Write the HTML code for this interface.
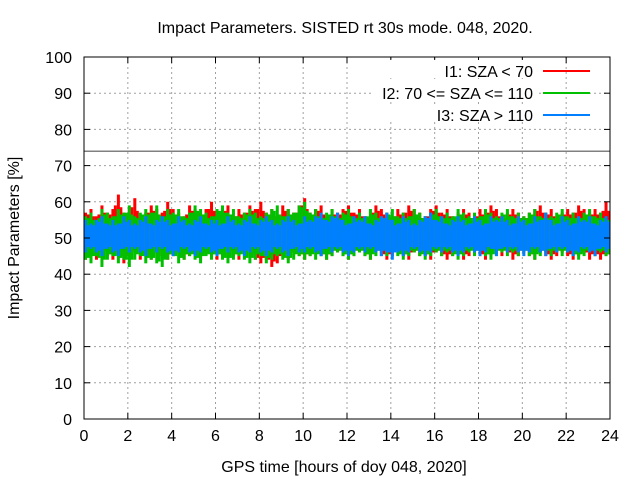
<!DOCTYPE html>
<html><head><meta charset="utf-8"><style>
body{margin:0;background:#fff;font-family:"Liberation Sans",sans-serif;}
svg text{font-family:"Liberation Sans",sans-serif;font-size:16px;fill:#000;}
</style></head><body>
<svg id="chart" width="640" height="480">
<g id="grid"></g><g id="series"></g><g id="axes"></g>
</svg>
<script>
const xTicks=[0,2,4,6,8,10,12,14,16,18,20,22,24];
const yTicks=[0,10,20,30,40,50,60,70,80,90,100];
const refLine=74;
// envelope per quarter-hour bin (96 bins)
const redHi=[57,58,56,59,57,58,62,57,58,61,56,57,59,58,57,60,58,57,56,59,58,57,58,60,57,58,59,56,58,57,59,58,60,57,58,56,59,58,57,59,61,57,58,59,56,58,57,58,59,57,58,56,57,59,58,57,56,58,57,59,58,57,56,58,59,57,58,56,57,58,57,56,58,57,59,58,56,57,58,57,56,57,58,59,57,58,56,57,58,57,59,58,57,58,57,60];
const redLo=[44,45,44,46,45,44,45,43,45,46,44,45,44,46,45,44,45,46,44,45,45,44,46,45,44,45,46,45,44,46,45,44,43,44,42,43,45,44,46,45,44,45,46,45,44,45,46,45,44,45,46,45,44,46,45,44,45,46,45,44,46,45,45,44,46,45,44,45,46,44,45,46,45,44,45,46,45,46,44,45,46,45,44,46,45,44,45,46,45,44,45,46,44,45,44,45];
const greenHi=[56,57,55,58,57,56,58,57,59,56,57,58,57,59,56,58,57,58,56,57,59,58,57,56,58,59,57,58,56,57,58,57,56,57,58,59,56,58,57,59,60,57,58,56,57,58,56,57,58,56,57,56,58,57,56,57,58,56,57,56,58,57,56,57,58,56,57,56,58,57,56,57,56,58,57,56,57,58,56,57,56,57,58,56,57,56,57,58,56,57,56,57,58,56,57,56];
const greenLo=[44,43,45,42,44,45,43,44,42,44,45,43,44,43,42,44,45,43,44,45,44,43,45,44,45,44,43,44,45,44,43,44,45,43,44,45,44,43,44,45,44,45,44,45,44,45,46,45,44,45,46,45,44,45,46,45,46,45,44,45,46,45,44,45,46,45,46,45,44,45,46,45,46,45,44,45,46,45,46,45,46,45,44,45,46,45,46,45,46,45,44,45,46,45,46,45];
const blueHi=[55,54,55,56,54,55,54,56,55,54,55,56,54,55,56,55,54,56,55,54,55,56,54,55,55,54,56,55,54,55,56,54,55,56,55,54,55,56,55,54,56,55,56,57,55,56,57,55,54,56,55,56,54,55,56,57,55,54,56,55,54,55,56,57,55,56,54,55,56,55,54,56,55,54,56,55,56,55,54,56,55,54,56,55,57,55,54,56,55,54,56,55,56,54,55,56];
const blueLo=[46,47,46,45,47,46,45,47,46,47,46,45,47,46,47,46,45,46,47,46,45,46,47,46,45,47,46,47,46,45,46,47,46,45,46,47,46,45,47,46,46,47,46,45,47,46,47,46,45,46,47,46,47,46,45,46,44,46,45,46,47,46,45,46,47,46,47,46,45,46,47,46,45,46,47,45,47,46,47,46,45,46,47,46,45,47,46,47,46,45,46,47,46,45,47,46];
const X0=84,X1=610,Y0=419,Y1=57;
const xs=v=>X0+(v/24)*(X1-X0);
const ys=v=>Y0-(v/100)*(Y0-Y1);
const NS='http://www.w3.org/2000/svg';
function mk(tag,attrs,parent,txt){const e=document.createElementNS(NS,tag);for(const k in attrs)e.setAttribute(k,attrs[k]);if(txt!==undefined)e.textContent=txt;parent.appendChild(e);return e;}
const grid=document.getElementById('grid'),axes=document.getElementById('axes'),ser=document.getElementById('series');
xTicks.forEach(t=>{
 if(t>0&&t<24){const l=mk('line',{x1:xs(t),x2:xs(t),y1:Y1,y2:Y0,stroke:'#a0a0a0','stroke-dasharray':'2,3'},grid);
 
 }
 mk('line',{x1:xs(t),x2:xs(t),y1:Y0,y2:Y0-6,stroke:'#000'},axes);
 mk('line',{x1:xs(t),x2:xs(t),y1:Y1,y2:Y1+6,stroke:'#000'},axes);
 const tx=mk('text',{x:xs(t),y:Y0+22,'text-anchor':'middle'},axes,String(t));
 
 
});
yTicks.forEach(t=>{
 if(t>0&&t<100){const l=mk('line',{x1:X0,x2:X1,y1:ys(t),y2:ys(t),stroke:'#a0a0a0','stroke-dasharray':'2,3'},grid);
 
 }
 mk('line',{x1:X0,x2:X0+6,y1:ys(t),y2:ys(t),stroke:'#000'},axes);
 mk('line',{x1:X1,x2:X1-6,y1:ys(t),y2:ys(t),stroke:'#000'},axes);
 const tx=mk('text',{x:X0-12,y:ys(t)+6,'text-anchor':'end'},axes,String(t));
 
 
});
function drawSeries(hi,lo,color,name){
 const g=mk('g',{},ser);
 
 
 const n=hi.length,w=(X1-X0)/n;
 for(let i=0;i<n;i++){
  const x=xs(i*24/n);
  mk('rect',{x:x,y:ys(hi[i]),width:w*0.55,height:ys(lo[i])-ys(hi[i]),fill:color},g);
  mk('rect',{x:x+w*0.45,y:ys((hi[i]+hi[(i+1)%n])/2-1),width:w*0.55,height:ys((lo[i]+lo[(i+1)%n])/2+1)-ys((hi[i]+hi[(i+1)%n])/2-1),fill:color},g);
 }
}
drawSeries(redHi,redLo,'#ff0000','series-i1');
drawSeries(greenHi,greenLo,'#00c000','series-i2');
drawSeries(blueHi,blueLo,'#0080ff','series-i3');
const rl=mk('line',{x1:X0,x2:X1,y1:ys(refLine),y2:ys(refLine),stroke:'#000','stroke-width':0.8},ser);


const fr=mk('rect',{x:X0,y:Y1,width:X1-X0,height:Y0-Y1,fill:'none',stroke:'#000'},axes);


// legend
const leg=[['I1: SZA < 70','#ff0000'],['I2: 70 <= SZA <= 110','#00c000'],['I3: SZA > 110','#0080ff']];
leg.forEach((d,i)=>{
 const g=mk('g',{},axes);
 
 
 const y=71+i*22;
 mk('rect',{x:372,y:y-11,width:164,height:18,fill:'#fff'},g);
 mk('text',{x:533,y:y+6,'text-anchor':'end'},g,d[0]);
 mk('line',{x1:543,x2:590,y1:y,y2:y,stroke:d[1],'stroke-width':2},g);
});
const t=mk('text',{x:345,y:33,'text-anchor':'middle'},axes,'Impact Parameters. SISTED rt 30s mode. 048, 2020.');

const xl=mk('text',{x:344,y:472,'text-anchor':'middle'},axes,'GPS time [hours of doy 048, 2020]');

const yl=mk('text',{x:19,y:238,'text-anchor':'middle',transform:'rotate(-90 19 238)'},axes,'Impact Parameters [%]');

</script>
</body></html>
